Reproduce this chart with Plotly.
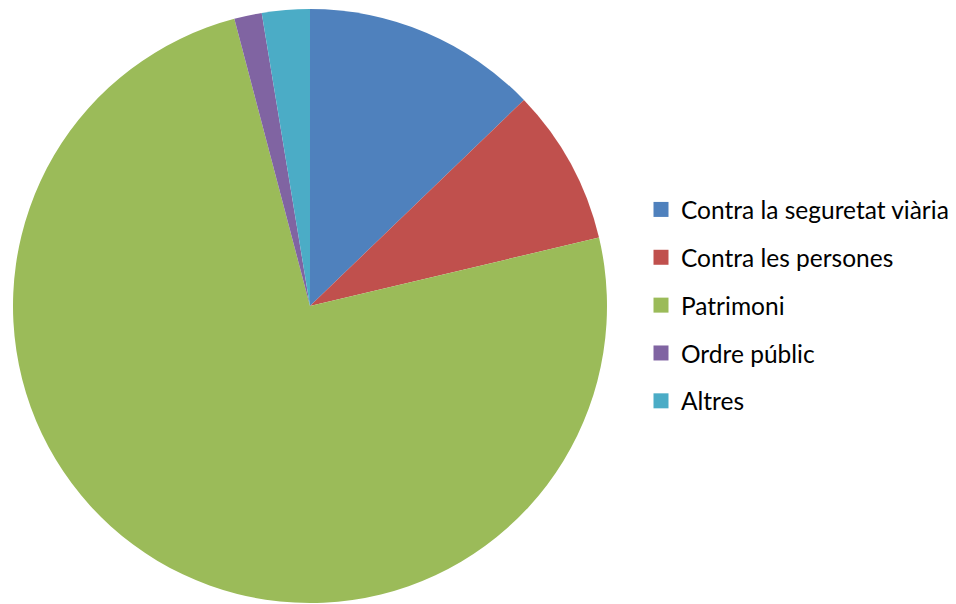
import plotly.graph_objects as go

categories = ["Contra la seguretat viària", "Contra les persones", "Patrimoni", "Ordre públic", "Altres"]
values = [12.8, 8.5, 74.6, 1.5, 2.6]
colors = ["#4F81BD", "#C0504D", "#9BBB59", "#8064A2", "#4BACC6"]

W, H = 956, 604
cx, cy, r = 310, 298, 297

fig = go.Figure()
fig.add_trace(go.Pie(
    labels=categories, values=values, sort=False, direction="clockwise", rotation=0,
    marker=dict(colors=colors, line=dict(width=0)), textinfo="none", showlegend=False,
    domain=dict(x=[(cx - r) / W, (cx + r) / W], y=[(cy - r) / H, (cy + r) / H]),
))
for i, (c, col) in enumerate(zip(categories, colors)):
    fig.add_trace(go.Scatter(
        x=[None], y=[None], mode="markers", name=c, legendgroup=f"g{i}",
        marker=dict(symbol="square", size=15, color=col),
    ))

fig.update_layout(
    width=W, height=H, margin=dict(l=0, r=0, t=0, b=0),
    paper_bgcolor="white", plot_bgcolor="white",
    xaxis=dict(visible=False), yaxis=dict(visible=False),
    showlegend=True,
    legend=dict(x=641 / W, xanchor="left", y=1 - 187 / H, yanchor="top",
                font=dict(family="Lato", size=24.5, color="#000000"),
                tracegroupgap=13, itemclick=False, bgcolor="rgba(0,0,0,0)"),
)
fig.write_html("out.html", config={"displayModeBar": False},
               post_script="document.body.style.margin='0';")
